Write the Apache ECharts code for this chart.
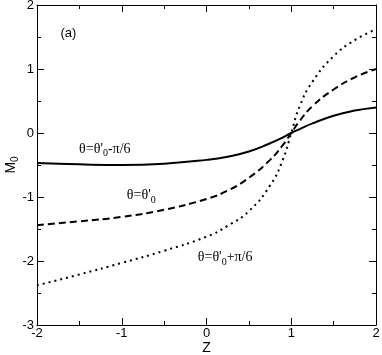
<!DOCTYPE html>
<html>
<head>
<meta charset="utf-8">
<script src="https://cdn.jsdelivr.net/npm/echarts@6/dist/echarts.min.js"></script>
<style>
    html, body { margin: 0; padding: 0; background: #fff; }
    #chart { width: 382px; height: 355px; }
</style>
</head>
<body>
<div id="chart"></div>
<script>
// 数据
const zValues = [-2, -1.5, -1, -0.5, 0, 0.25, 0.5, 0.75, 0.9, 1, 1.1, 1.25, 1.5, 1.75, 2];
const minusSixth = [-0.47, -0.49, -0.50, -0.48, -0.42, -0.37, -0.29, -0.16, -0.07, 0, 0.06, 0.15, 0.27, 0.35, 0.40];
const zeroShift = [-1.44, -1.38, -1.31, -1.20, -1.03, -0.90, -0.70, -0.42, -0.19, 0, 0.19, 0.42, 0.68, 0.87, 1.00];
const plusSixth = [-2.38, -2.21, -2.03, -1.84, -1.62, -1.45, -1.22, -0.82, -0.42, 0, 0.42, 0.80, 1.20, 1.45, 1.62];

const xTicks = [-2, -1, 0, 1, 2];
const yTicks = [-3, -2, -1, 0, 1, 2];

// annotations: [text key, z, M0]
const notes = [
    ['minus', -1.2, -0.25],
    ['zero', -0.77, -0.98],
    ['plus', 0.22, -1.95],
    ['a', -1.63, 1.55]
];

document.addEventListener('DOMContentLoaded', function () {
    initChart();
});

function pairs(ys) {
    return zValues.map(function (z, i) { return [z, ys[i]]; });
}

function initChart() {
    const chartDom = document.getElementById('chart');
    const myChart = echarts.init(chartDom);

    const tickFont = { color: '#000', fontSize: 13, fontFamily: 'Liberation Sans' };
    const rich = {
        t: { fontFamily: 'Liberation Serif', fontSize: 14, color: '#000', lineHeight: 18 },
        s: { fontFamily: 'Liberation Serif', fontSize: 10, color: '#000', padding: [9, 0, 0, 0], lineHeight: 18 },
        a: { fontFamily: 'Liberation Sans', fontSize: 13, color: '#000' }
    };
    const labelText = {
        minus: '{t|θ=θ\'}{s|0}{t|-π/6}',
        zero: '{t|θ=θ\'}{s|0}',
        plus: '{t|θ=θ\'}{s|0}{t|+π/6}',
        a: '{a|(a)}'
    };

    function xAxisCfg(pos, showLabel) {
        return {
            type: 'value', position: pos, min: -2, max: 2, interval: 1,
            axisLine: { show: true, onZero: false, lineStyle: { color: '#000', width: 1 } },
            axisTick: { inside: true, length: 7, lineStyle: { color: '#000' } },
            minorTick: { show: true, splitNumber: 2, length: 4, lineStyle: { color: '#000' } },
            splitLine: { show: false },
            axisLabel: Object.assign({ show: showLabel, margin: 2, formatter: function (v) { return xTicks.indexOf(v) >= 0 ? String(v) : ''; } }, tickFont),
            name: showLabel ? 'Z' : '',
            nameLocation: 'middle',
            nameGap: 23,
            nameMoveOverlap: false,
            nameTextStyle: { color: '#000', fontSize: 14, fontFamily: 'Liberation Sans', verticalAlign: 'middle' }
        };
    }

    function yAxisCfg(pos, showLabel) {
        return {
            type: 'value', position: pos, min: -3, max: 2, interval: 1,
            axisLine: { show: true, onZero: false, lineStyle: { color: '#000', width: 1 } },
            axisTick: { inside: true, length: 7, lineStyle: { color: '#000' } },
            minorTick: { show: true, splitNumber: 2, length: 4, lineStyle: { color: '#000' } },
            splitLine: { show: false },
            axisLabel: Object.assign({ show: showLabel, margin: 3, formatter: function (v) { return yTicks.indexOf(v) >= 0 ? String(v) : ''; } }, tickFont),
            name: showLabel ? '{m|M}{o|0}' : '',
            nameLocation: 'middle',
            nameGap: 26,
            nameMoveOverlap: false,
            nameTextStyle: {
                verticalAlign: 'middle',
                rich: {
                    m: { color: '#000', fontSize: 14, fontFamily: 'Liberation Sans' },
                    o: { color: '#000', fontSize: 10, fontFamily: 'Liberation Sans', padding: [8, 0, 0, 0] }
                }
            }
        };
    }

    const option = {
        backgroundColor: '#fff',
        animation: false,
        grid: { left: 37, right: 6, top: 5, bottom: 30, containLabel: false, outerBoundsMode: 'none' },
        xAxis: [xAxisCfg('bottom', true), xAxisCfg('top', false)],
        yAxis: [yAxisCfg('left', true), yAxisCfg('right', false)],
        series: [
            {
                name: 'minus', type: 'line', smooth: true, symbol: 'none',
                data: pairs(minusSixth),
                lineStyle: { color: '#000', width: 2, type: 'solid' },
                markPoint: {
                    symbol: 'circle',
                    symbolSize: 1,
                    itemStyle: { color: 'rgba(0,0,0,0)' },
                    silent: true,
                    data: notes.map(function (n) {
                        return {
                            coord: [n[1], n[2]],
                            label: {
                                show: true,
                                position: 'inside',
                                formatter: labelText[n[0]],
                                rich: rich
                            }
                        };
                    })
                }
            },
            {
                name: 'zero', type: 'line', smooth: true, symbol: 'none',
                data: pairs(zeroShift),
                lineStyle: { color: '#000', width: 2, type: [7, 4] }
            },
            {
                name: 'plus', type: 'line', smooth: true, symbol: 'none',
                data: pairs(plusSixth),
                lineStyle: { color: '#000', width: 2, type: [2, 4] }
            }
        ]
    };

    myChart.setOption(option);

    window.addEventListener('resize', function () {
        myChart.resize();
    });
}
</script>
</body>
</html>
